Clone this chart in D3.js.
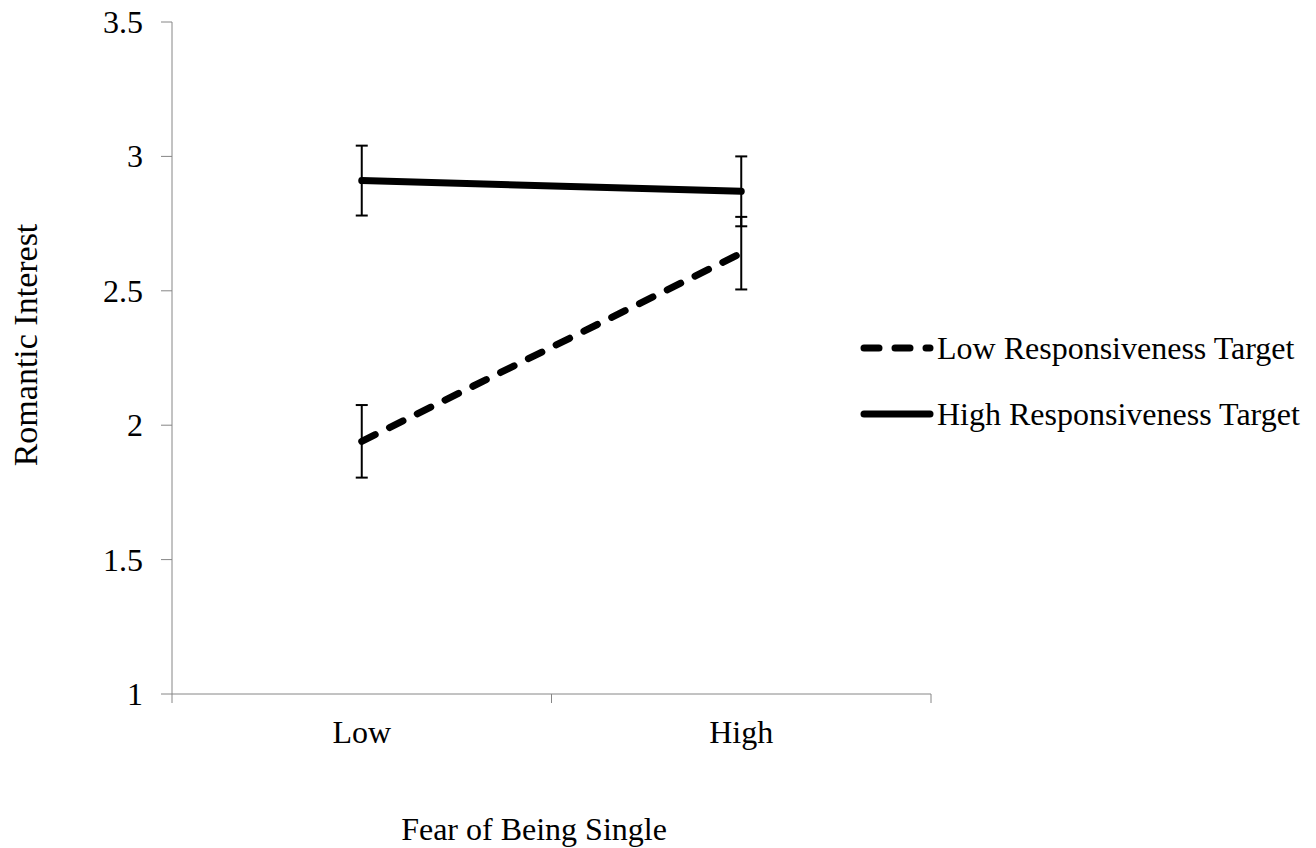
<!DOCTYPE html>
<html lang="en">
  <meta charset="utf-8">
  <style>
    body{
        margin: 0;
        background: #fff;
    }
    text{
        font-family: "Liberation Serif", "Times New Roman", serif;
        fill: #000;
    }
  </style>
  <body>
    <svg width="1316" height="848"></svg>

    <script src="https://d3js.org/d3.v7.min.js"></script>
    <script>
      let categories = ['Low', 'High']
      let seriesNames = ['Low Responsiveness Target', 'High Responsiveness Target']
      let lowRespMeans = [1.94, 2.64]
      let lowRespErr = [0.135, 0.135]
      let highRespMeans = [2.91, 2.87]
      let highRespErr = [0.13, 0.13]
      let yTicks = [1, 1.5, 2, 2.5, 3, 3.5]

      let series = [
        {name: seriesNames[0], means: lowRespMeans, err: lowRespErr, dash: '15,16'},
        {name: seriesNames[1], means: highRespMeans, err: highRespErr, dash: null}
      ]

      let svg = d3.select('svg')
      let axisColor = '#868686'

      let x = d3.scaleBand().domain(categories).range([172, 931]).padding(0)
      let y = d3.scaleLinear().domain([1, 3.5]).range([694, 22])
      let cx = d => x(d) + x.bandwidth() / 2

      // y axis
      let yAxis = svg.append('g')
      yAxis.append('line')
        .attr('x1', 172).attr('x2', 172)
        .attr('y1', y(3.5)).attr('y2', y(1))
        .attr('stroke', axisColor).attr('stroke-width', 1)
      yAxis.selectAll('.tick').data(yTicks).enter()
        .append('line')
        .attr('x1', 161).attr('x2', 172)
        .attr('y1', d => y(d)).attr('y2', d => y(d))
        .attr('stroke', axisColor)
      yAxis.selectAll('text').data(yTicks).enter()
        .append('text')
        .attr('x', 143)
        .attr('y', d => y(d) + 11)
        .attr('text-anchor', 'end')
        .style('font-size', '32px')
        .text(d => d)

      // x axis
      let xAxis = svg.append('g')
      xAxis.append('line')
        .attr('x1', x.range()[0]).attr('x2', x.range()[1])
        .attr('y1', y(1)).attr('y2', y(1))
        .attr('stroke', axisColor)
      let xTickPos = categories.map(c => x(c)).concat([x.range()[1]])
      xAxis.selectAll('.tick').data(xTickPos).enter()
        .append('line')
        .attr('x1', d => d).attr('x2', d => d)
        .attr('y1', y(1)).attr('y2', y(1) + 9)
        .attr('stroke', axisColor)
      xAxis.selectAll('text').data(categories).enter()
        .append('text')
        .attr('x', d => cx(d))
        .attr('y', 743)
        .attr('text-anchor', 'middle')
        .style('font-size', '32px')
        .text(d => d)

      // axis titles
      svg.append('text')
        .attr('transform', 'translate(37,345) rotate(-90)')
        .attr('text-anchor', 'middle')
        .style('font-size', '34px')
        .text('Romantic Interest')
      svg.append('text')
        .attr('x', 534)
        .attr('y', 840)
        .attr('text-anchor', 'middle')
        .style('font-size', '32px')
        .text('Fear of Being Single')

      // error bars
      series.forEach(s => {
        let g = svg.append('g')
        categories.forEach((c, i) => {
          let top = y(s.means[i] + s.err[i])
          let bot = y(s.means[i] - s.err[i])
          g.append('line')
            .attr('x1', cx(c)).attr('x2', cx(c))
            .attr('y1', top).attr('y2', bot)
            .attr('stroke', '#000').attr('stroke-width', 2)
          ;[top, bot].forEach(v => {
            g.append('line')
              .attr('x1', cx(c) - 6).attr('x2', cx(c) + 6)
              .attr('y1', v).attr('y2', v)
              .attr('stroke', '#000').attr('stroke-width', 2)
          })
        })
      })

      // lines
      let line = d3.line()
        .x((d, i) => cx(categories[i]))
        .y(d => y(d))
      series.forEach(s => {
        svg.append('path')
          .attr('d', line(s.means))
          .attr('fill', 'none')
          .attr('stroke', '#000')
          .attr('stroke-width', 7)
          .attr('stroke-linecap', 'round')
          .attr('stroke-dasharray', s.dash)
      })

      // legend
      let legend = svg.append('g')
      series.forEach((s, i) => {
        let ly = 348 + i * 66
        legend.append('line')
          .attr('x1', 864).attr('x2', 930)
          .attr('y1', ly).attr('y2', ly)
          .attr('stroke', '#000')
          .attr('stroke-width', 7)
          .attr('stroke-linecap', 'round')
          .attr('stroke-dasharray', s.dash)
        legend.append('text')
          .attr('x', 937)
          .attr('y', ly + 11)
          .style('font-size', '32px')
          .text(s.name)
      })
    </script>
</body>
</html>
